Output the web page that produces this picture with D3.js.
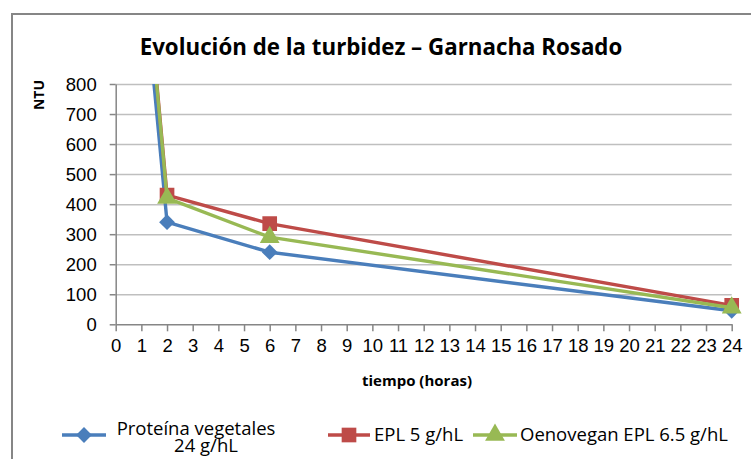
<!DOCTYPE html>
<html>
<head>
<meta charset="utf-8">
<script src="https://cdn.jsdelivr.net/npm/d3@7"></script>
<style>
	body { margin: 0; background: #fff; }
	svg { display: block; font-family: 'Open Sans', sans-serif; }
	.axis path, .axis line { stroke: #868686; }
	.axis text { font-size: 18.5px; fill: #000; }
</style>
</head>
<body>
<svg id="chart-svg" width="751" height="459"></svg>
<script>
// values (NTU)
const times = [0, 2, 6, 24];
const proteina = [2150, 340, 240, 45];
const epl = [2300, 430, 335, 63];
const oenovegan = [2300, 420, 290, 55];

const xTicks = d3.range(0, 25, 1);
const yTicks = [0, 100, 200, 300, 400, 500, 600, 700, 800];

const seriesNames = ['Proteína vegetales\n24 g/hL', 'EPL 5 g/hL', 'Oenovegan EPL 6.5 g/hL'];
const seriesValues = [proteina, epl, oenovegan];
const seriesColors = ['#4a7ebb', '#be4b48', '#98b954'];

const svg = d3.select('#chart-svg');

// marker shapes: diamond is a square turned 45 degrees
function drawMarker(sel, i) {
	if (i == 0) {
		sel.attr('d', d3.symbol(d3.symbolSquare, 125)).attr('transform', function () {
			return d3.select(this).attr('transform') + ' rotate(45)';
		});
	} else if (i == 1) {
		sel.attr('d', d3.symbol(d3.symbolSquare, 215));
	} else {
		sel.attr('d', d3.symbol(d3.symbolTriangle, 170));
	}
}

// chart frame (runs past the right and bottom edge in the reference)
svg.append('rect')
	.attr('x', 12).attr('y', 14)
	.attr('width', 780).attr('height', 480)
	.attr('fill', 'none')
	.attr('stroke', '#868686')
	.attr('stroke-width', 2);

const plot = { left: 115.7, right: 731.7, top: 84, bottom: 324.3 };

const x = d3.scaleLinear().domain([0, 24]).range([plot.left, plot.right]);
const y = d3.scaleLinear().domain([0, 800]).range([plot.bottom, plot.top]);

// horizontal gridlines
svg.append('g')
	.attr('transform', `translate(${plot.left},0)`)
	.call(d3.axisLeft(y).tickValues(yTicks.slice(1)).tickSize(-(plot.right - plot.left)).tickFormat(''))
	.call((g) => g.select('.domain').remove())
	.call((g) => g.selectAll('line').attr('stroke', '#bfbfbf').attr('stroke-width', 1.5));

// y axis
svg.append('g')
	.attr('class', 'axis')
	.attr('transform', `translate(${plot.left},0)`)
	.call(d3.axisLeft(y).tickValues(yTicks).tickSize(6).tickSizeOuter(0).tickPadding(13))
	.call((g) => g.selectAll('text').attr('dy', '0.36em'));

// x axis
svg.append('g')
	.attr('class', 'axis')
	.attr('transform', `translate(0,${plot.bottom})`)
	.call(d3.axisBottom(x).tickValues(xTicks).tickSize(7).tickSizeOuter(0).tickPadding(8))
	.call((g) => g.selectAll('text').attr('dy', '0.71em'));

svg.selectAll('.axis path, .axis line').attr('stroke-width', 1.5);

// title
svg.append('text')
	.attr('x', 381).attr('y', 55)
	.attr('text-anchor', 'middle')
	.attr('font-size', 22.3)
	.attr('font-weight', 'bold')
	.text('Evolución de la turbidez – Garnacha Rosado');

// axis titles
svg.append('text')
	.attr('transform', 'translate(44,95) rotate(-90)')
	.attr('text-anchor', 'middle')
	.attr('font-size', 14)
	.attr('font-weight', 'bold')
	.text('NTU');

svg.append('text')
	.attr('x', 417).attr('y', 386)
	.attr('text-anchor', 'middle')
	.attr('font-size', 15)
	.attr('font-weight', 'bold')
	.text('tiempo (horas)');

// series, clipped to the plot area
svg.append('clipPath').attr('id', 'plot-clip')
	.append('rect')
	.attr('x', plot.left - 20).attr('y', plot.top)
	.attr('width', plot.right - plot.left + 40).attr('height', plot.bottom - plot.top + 20);

const lineGen = d3.line().x((d) => x(d.t)).y((d) => y(d.v));
const seriesG = svg.append('g').attr('clip-path', 'url(#plot-clip)');

seriesValues.forEach((vals, i) => {
	const pts = times.map((t, j) => ({ t: t, v: vals[j] }));
	seriesG.append('path')
		.datum(pts)
		.attr('d', lineGen)
		.attr('fill', 'none')
		.attr('stroke', seriesColors[i])
		.attr('stroke-width', 3.4)
		.attr('stroke-linejoin', 'round');
	seriesG.selectAll('.marker-' + i)
		.data(pts)
		.enter()
		.append('path')
		.attr('class', 'marker-' + i)
		.attr('transform', (d) => `translate(${x(d.t)},${y(d.v)})`)
		.attr('fill', seriesColors[i])
		.call(drawMarker, i);
});

// legend
const legendItems = [
	{ x1: 62, x2: 106, tx: 116 },
	{ x1: 328, x2: 370, tx: 374 },
	{ x1: 473, x2: 517, tx: 520 }
];
const legendY = 435;
legendItems.forEach((item, i) => {
	const lg = svg.append('g');
	lg.append('line')
		.attr('x1', item.x1).attr('x2', item.x2)
		.attr('y1', legendY).attr('y2', legendY)
		.attr('stroke', seriesColors[i])
		.attr('stroke-width', 3.4);
	lg.append('path')
		.attr('transform', `translate(${(item.x1 + item.x2) / 2},${legendY})`)
		.attr('fill', seriesColors[i])
		.call(drawMarker, i);
	const lines = seriesNames[i].split('\n');
	const txt = lg.append('text').attr('font-size', 18.5).attr('fill', '#000');
	if (lines.length == 1) {
		txt.attr('x', item.tx).attr('y', legendY + 6).text(lines[0]);
	} else {
		txt.attr('text-anchor', 'middle');
		txt.append('tspan').attr('x', 196).attr('y', legendY).text(lines[0]);
		txt.append('tspan').attr('x', 206).attr('y', legendY + 17).text(lines[1]);
	}
});
</script>
</body>
</html>
